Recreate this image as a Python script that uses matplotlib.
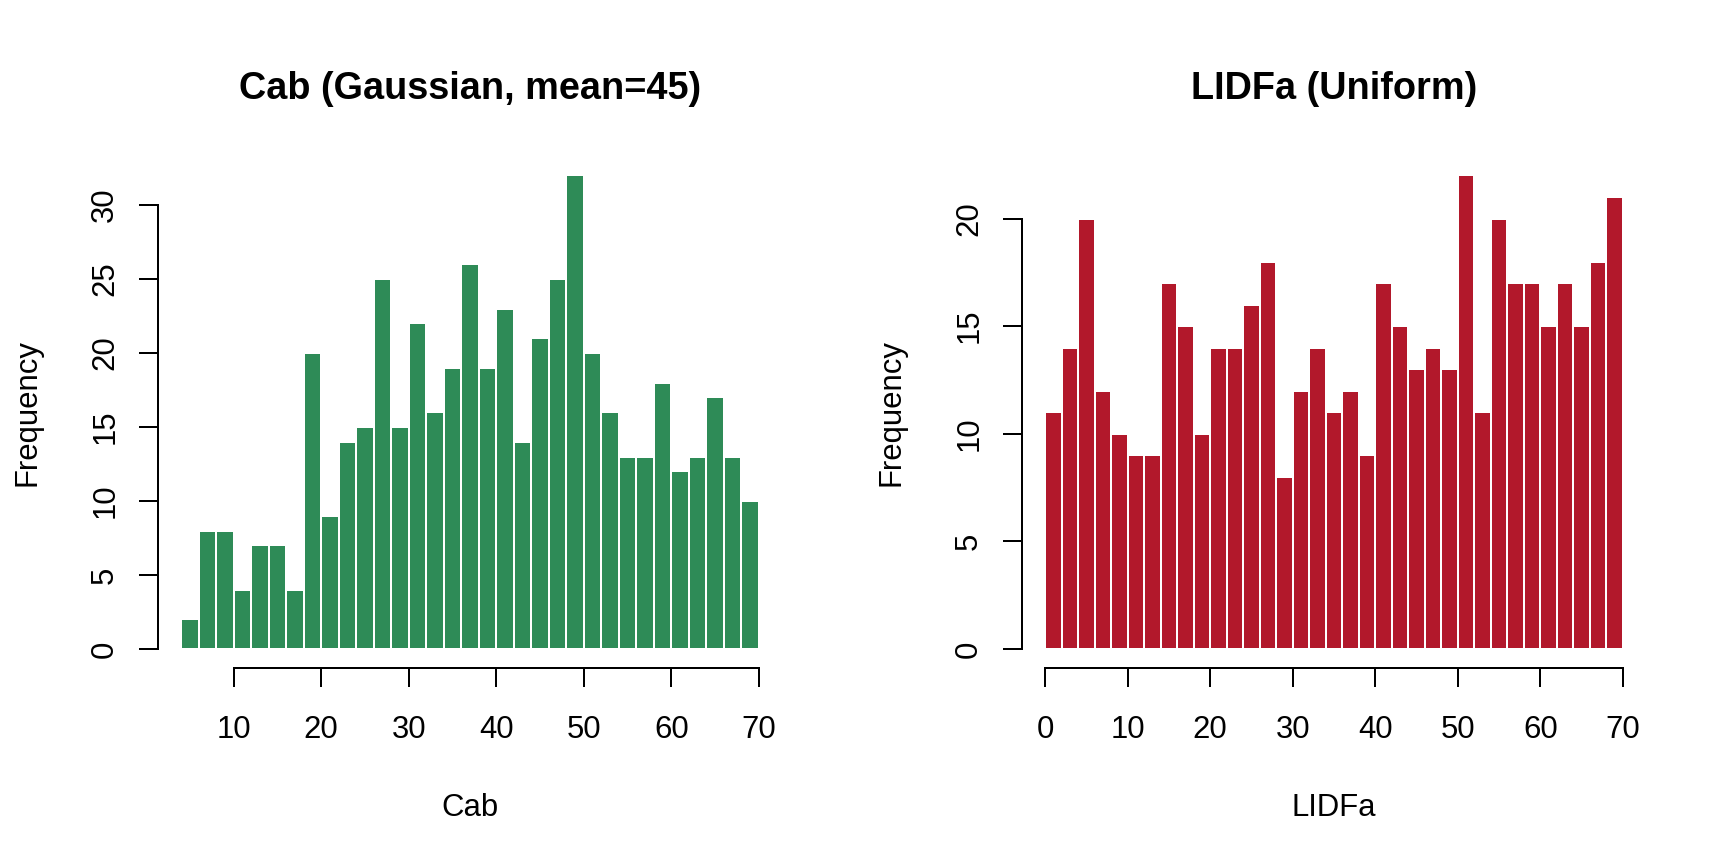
import numpy as np
import matplotlib.pyplot as plt

plt.rcParams['font.family'] = ['Liberation Sans', 'DejaVu Sans']

# histogram counts, bins of width 2
cab_edges = np.arange(4, 72, 2)
cab_counts = [2, 8, 8, 4, 7, 7, 4, 20, 9, 14, 15, 25, 15, 22, 16, 19, 26,
              19, 23, 14, 21, 25, 32, 20, 16, 13, 13, 18, 12, 13, 17, 13, 10]

lidfa_edges = np.arange(0, 72, 2)
lidfa_counts = [11, 14, 20, 12, 10, 9, 9, 17, 15, 10, 14, 14, 16, 18, 8, 12,
                14, 11, 12, 9, 17, 15, 13, 14, 13, 22, 11, 20, 17, 17, 15,
                17, 15, 18, 21]

cab_xticks = [10, 20, 30, 40, 50, 60, 70]
cab_yticks = [0, 5, 10, 15, 20, 25, 30]
lidfa_xticks = [0, 10, 20, 30, 40, 50, 60, 70]
lidfa_yticks = [0, 5, 10, 15, 20]

W, H = 1728, 864
fig = plt.figure(figsize=(9, 4.5), dpi=192)


def r_hist(left_px, edges, counts, color, xticks, yticks, title, xlabel):
    # plot region in pixels, like R default margins
    l, r, t, b = left_px, left_px + 624, 156.5, 668
    ax = fig.add_axes([l / W, 1 - b / H, (r - l) / W, (b - t) / H])
    widths = np.diff(edges)
    ax.bar(edges[:-1], counts, width=widths, align='edge', color=color,
           edgecolor='white', linewidth=0.75)
    x0, x1 = edges[0], edges[-1]
    dx = (x1 - x0) * 0.04
    ymax = max(counts)
    ax.set_xlim(x0 - dx, x1 + dx)
    ax.set_ylim(-ymax * 0.04, ymax * 1.04)
    for s in ['top', 'right']:
        ax.spines[s].set_visible(False)
    ax.spines['left'].set_bounds(yticks[0], yticks[-1])
    ax.spines['bottom'].set_bounds(xticks[0], xticks[-1])
    for s in ['left', 'bottom']:
        ax.spines[s].set_linewidth(0.75)
    ax.set_xticks(xticks)
    ax.set_yticks(yticks)
    ax.tick_params(axis='both', length=7.2, width=0.75, labelsize=11.7)
    ax.tick_params(axis='x', pad=10.3)
    ax.tick_params(axis='y', pad=7)
    for lab in ax.get_yticklabels():
        lab.set_rotation(90)
        lab.set_va('center')
    ax.set_xlabel(xlabel, fontsize=11.7, labelpad=18)
    ax.set_ylabel('Frequency', fontsize=11.7, labelpad=18)
    ax.set_title(title, fontsize=14.2, fontweight='bold', pad=21.6)
    return ax


r_hist(158, cab_edges, cab_counts, '#2E8B57', cab_xticks, cab_yticks,
       'Cab (Gaussian, mean=45)', 'Cab')
r_hist(864 + 158, lidfa_edges, lidfa_counts, '#B2182B', lidfa_xticks,
       lidfa_yticks, 'LIDFa (Uniform)', 'LIDFa')

fig.savefig('out.png', dpi=192)
